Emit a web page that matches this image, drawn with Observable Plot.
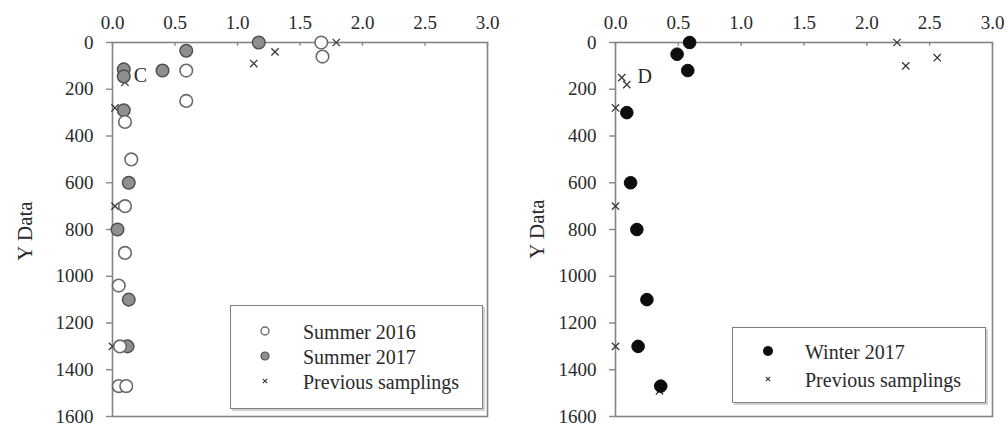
<!DOCTYPE html>
<html>
<head>
<meta charset="utf-8">
<script src="https://cdn.jsdelivr.net/npm/d3@7"></script>
<script src="https://cdn.jsdelivr.net/npm/@observablehq/plot@0.6"></script>
<style>
  html, body { margin: 0; padding: 0; background: #fff; }
  #wrap { position: relative; width: 1008px; height: 431px; overflow: hidden; font-family: "Liberation Serif", "Times New Roman", serif; color: #2a2a2a; }
  .panel { position: absolute; top: 0; }
  .ytitle { position: absolute; font-size: 21px; white-space: nowrap; transform: translate(-50%, -50%) rotate(-90deg); }
  .legend { position: absolute; border: 1.5px solid #808080; box-shadow: 2px 2px 0 #d0d0d0; background: #fff; box-sizing: border-box; }
  .lrow { position: absolute; font-size: 20px; white-space: nowrap; line-height: 1; transform: translateY(-50%); }
  .lsym { position: absolute; transform: translate(-50%, -50%); }
</style>
</head>
<body>
<div id="wrap"></div>
<script>
// ---- data (x value, depth) ----
const xTicks = [0, 0.5, 1, 1.5, 2, 2.5, 3];
const yTicks = [0, 200, 400, 600, 800, 1000, 1200, 1400, 1600];

const summer2016 = [
  {x: 1.67, y: 0}, {x: 1.68, y: 60}, {x: 0.59, y: 120}, {x: 0.59, y: 250},
  {x: 0.10, y: 340}, {x: 0.15, y: 500}, {x: 0.10, y: 700}, {x: 0.10, y: 900},
  {x: 0.05, y: 1040}, {x: 0.06, y: 1300}, {x: 0.05, y: 1470}, {x: 0.11, y: 1470}
];
const summer2017 = [
  {x: 1.17, y: 0}, {x: 0.59, y: 35}, {x: 0.40, y: 120}, {x: 0.09, y: 115},
  {x: 0.09, y: 145}, {x: 0.09, y: 290}, {x: 0.13, y: 600}, {x: 0.04, y: 800},
  {x: 0.13, y: 1100}, {x: 0.12, y: 1300}
];
const previousLeft = [
  {x: 1.79, y: 0}, {x: 1.30, y: 40}, {x: 1.13, y: 90}, {x: 0.10, y: 170},
  {x: 0.02, y: 280}, {x: 0.02, y: 700}, {x: 0.00, y: 1300}
];
const winter2017 = [
  {x: 0.59, y: 0}, {x: 0.49, y: 50}, {x: 0.575, y: 120}, {x: 0.09, y: 300},
  {x: 0.12, y: 600}, {x: 0.17, y: 800}, {x: 0.25, y: 1100}, {x: 0.18, y: 1300},
  {x: 0.36, y: 1470}
];
const previousRight = [
  {x: 2.24, y: 0}, {x: 2.31, y: 100}, {x: 2.56, y: 65}, {x: 0.05, y: 150},
  {x: 0.09, y: 180}, {x: 0.00, y: 280}, {x: 0.00, y: 700}, {x: 0.00, y: 1300},
  {x: 0.35, y: 1490}
];
const panelLabels = [{x: 0.17, y: 141, t: "C"}, {x: 0.175, y: 145, t: "D"}];

const legendLeft = ["Summer 2016", "Summer 2017", "Previous samplings"];
const legendRight = ["Winter 2017", "Previous samplings"];
const yTitle = "Y Data";

// ---- drawing ----
const AX = "#858585";
function panel(marginLeft, marginRight, circleMarks, label) {
  return Plot.plot({
    width: 504,
    height: 431,
    marginLeft, marginRight,
    marginTop: 42,
    marginBottom: 15,
    style: {fontFamily: "'Liberation Serif', 'Times New Roman', serif", fontSize: "19px", color: "#2a2a2a", background: "transparent"},
    x: {domain: [0, 3]},
    y: {domain: [0, 1600], reverse: true},
    marks: [
      Plot.frame({stroke: AX, strokeWidth: 1.6}),
      Plot.axisX({anchor: "top", ticks: xTicks, tickFormat: d3.format(".1f"), tickSize: 0, tickPadding: 14, label: null, fontSize: 19}),
      Plot.ruleX(xTicks, {x: d => d, y1: 0, y2: 16, stroke: AX, strokeWidth: 1.4}),
      Plot.axisY({anchor: "left", ticks: yTicks, tickFormat: d => String(d), tickSize: 6, tickPadding: 13, stroke: AX, strokeWidth: 1.4, label: null, fontSize: 19}),
      ...circleMarks,
      Plot.text([label], {x: "x", y: "y", text: "t", textAnchor: "start", fontSize: 20, fill: "#2a2a2a"})
    ]
  });
}

const crossOpts = {x: "x", y: "y", symbol: "times", r: 3.4, stroke: "#3a3a3a", strokeWidth: 1.3};

const left = panel(112, 17, [
  Plot.dot(previousLeft, crossOpts),
  Plot.dot(summer2017, {x: "x", y: "y", r: 6.3, fill: "#8f8f8f", stroke: "#505050", strokeWidth: 1.5}),
  Plot.dot(summer2016, {x: "x", y: "y", r: 6.3, fill: "white", stroke: "#6a6a6a", strokeWidth: 1.6})
], panelLabels[0]);

const right = panel(111, 16, [
  Plot.dot(previousRight, crossOpts),
  Plot.dot(winter2017, {x: "x", y: "y", r: 6.3, fill: "#0d0d0d", stroke: "#0d0d0d", strokeWidth: 1})
], panelLabels[1]);

const wrap = document.getElementById("wrap");
[[left, 0], [right, 504]].forEach(([svg, x]) => {
  const d = document.createElement("div");
  d.className = "panel";
  d.style.left = x + "px";
  d.appendChild(svg);
  wrap.appendChild(d);
});

// y titles
[[25, 231], [537, 229]].forEach(([cx, cy]) => {
  const t = document.createElement("div");
  t.className = "ytitle";
  t.style.left = cx + "px";
  t.style.top = cy + "px";
  t.textContent = yTitle;
  wrap.appendChild(t);
});

// legends
function symbolSvg(kind) {
  const s = {
    open: '<circle cx="6" cy="6" r="4" fill="#fff" stroke="#6a6a6a" stroke-width="1.4"/>',
    gray: '<circle cx="6" cy="6" r="4" fill="#8f8f8f" stroke="#505050" stroke-width="1.2"/>',
    black: '<circle cx="6" cy="6" r="5" fill="#0d0d0d"/>',
    cross: '<path d="M3.8,3.8L8.2,8.2M8.2,3.8L3.8,8.2" stroke="#3a3a3a" stroke-width="1.2"/>'
  }[kind];
  return '<svg width="12" height="12" viewBox="0 0 12 12">' + s + '</svg>';
}
function legend(box, symX, textX, rows) {
  const L = document.createElement("div");
  L.className = "legend";
  L.style.left = box[0] + "px"; L.style.top = box[1] + "px";
  L.style.width = box[2] + "px"; L.style.height = box[3] + "px";
  wrap.appendChild(L);
  rows.forEach(([label, kind, y]) => {
    const s = document.createElement("div");
    s.className = "lsym";
    s.style.left = symX + "px"; s.style.top = y + "px";
    s.innerHTML = symbolSvg(kind);
    wrap.appendChild(s);
    const r = document.createElement("div");
    r.className = "lrow";
    r.style.left = textX + "px"; r.style.top = y + "px";
    r.textContent = label;
    wrap.appendChild(r);
  });
}
legend([230, 305, 253, 104], 265, 303, [
  [legendLeft[0], "open", 332], [legendLeft[1], "gray", 357], [legendLeft[2], "cross", 382]
]);
legend([732, 327, 254, 76], 768, 805, [
  [legendRight[0], "black", 352], [legendRight[1], "cross", 380]
]);
</script>
</body>
</html>
